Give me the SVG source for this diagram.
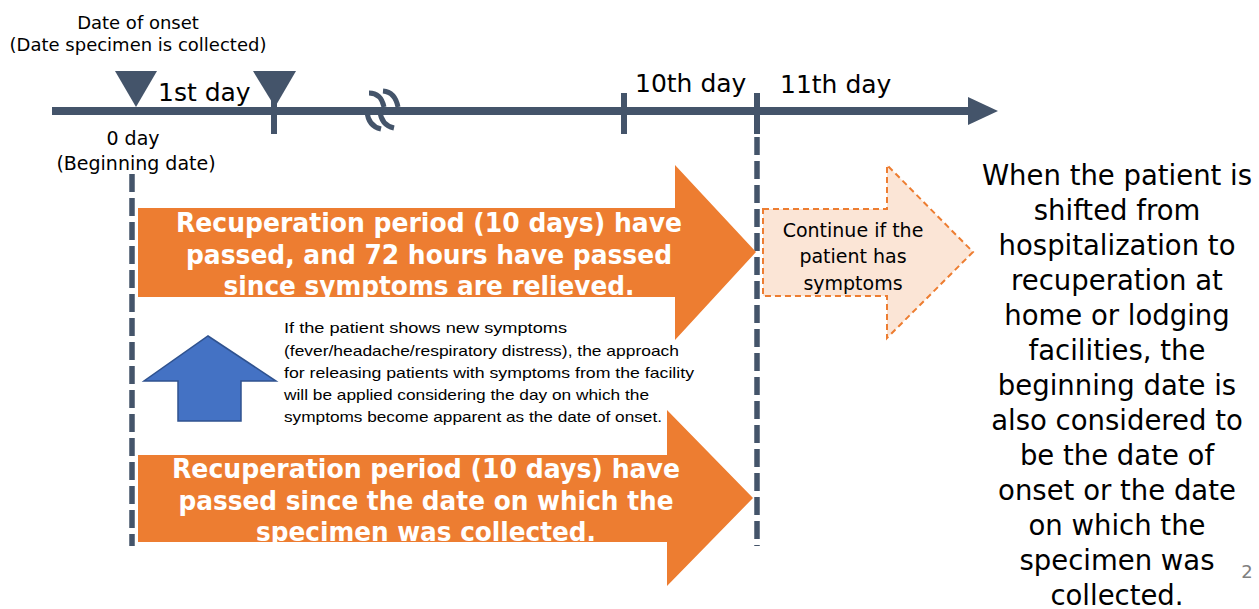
<svg xmlns="http://www.w3.org/2000/svg" width="1259" height="609" viewBox="0 0 1259 609">
<defs>
<style>
.t{font-family:"DejaVu Sans","Verdana",sans-serif;fill:#000}
.b{font-family:"DejaVu Sans","Verdana",sans-serif;font-weight:bold;fill:#fff;font-size:26px}
.s{font-family:"Liberation Sans","Arial",sans-serif;font-size:15px;fill:#000}
.axis{stroke:#44546A;stroke-width:8;fill:none}
.dash{stroke:#44546A;stroke-width:5.5;stroke-dasharray:18 6;fill:none}
.brk{stroke:#44546A;stroke-width:5;fill:none;stroke-linecap:butt}
.orange{fill:#ED7D31}
</style>
</defs>
<rect width="1259" height="609" fill="#fff"/>
<g id="connectors">
<line class="axis" x1="52" y1="111" x2="972" y2="111"/>
<polygon points="968,97 998,111 968,125" fill="#44546A"/>
<line class="axis" x1="274" y1="90" x2="274" y2="134" style="stroke-width:6"/>
<line class="axis" x1="624" y1="93" x2="624" y2="134" style="stroke-width:6"/>
<line class="axis" x1="757" y1="93" x2="757" y2="134" style="stroke-width:6"/>
<line class="dash" x1="132" y1="174" x2="132" y2="546"/>
<line class="dash" x1="757" y1="137" x2="757" y2="546"/>
<path class="brk" d="M369,93 Q381,93 384,107"/>
<path class="brk" d="M367,111 Q368,126 381,129"/>
<path class="brk" d="M383,91 Q395,92 398,107"/>
<path class="brk" d="M380,111 Q381,125 394,128"/>
</g>
<g id="marker-onset">
<polygon points="115,71 157,71 136,107" fill="#44546A"/>
</g>
<g id="marker-day1">
<polygon points="253,71 296,71 275,107" fill="#44546A"/>
</g>
<g id="labels">
<text class="t" x="138" y="29" font-size="18" text-anchor="middle">Date of onset</text>
<text class="t" x="138" y="51" font-size="18" text-anchor="middle">(Date specimen is collected)</text>
<text class="t" x="158" y="101" font-size="25">1st day</text>
<text class="t" x="133" y="145" font-size="19" text-anchor="middle">0 day</text>
<text class="t" x="136" y="170" font-size="19" text-anchor="middle">(Beginning date)</text>
<text class="t" x="635" y="92" font-size="25">10th day</text>
<text class="t" x="780" y="93" font-size="25">11th day</text>
</g>
<g id="arrow-symptoms">
<polygon class="orange" points="138,208 675,208 675,165 756,252 675,340 675,297 138,297"/>
<text class="b" x="429" y="232" text-anchor="middle" textLength="506" lengthAdjust="spacingAndGlyphs">Recuperation period (10 days) have</text>
<text class="b" x="429" y="264" text-anchor="middle" textLength="486" lengthAdjust="spacingAndGlyphs">passed, and 72 hours have passed</text>
<text class="b" x="429" y="295" text-anchor="middle" textLength="411" lengthAdjust="spacingAndGlyphs">since symptoms are relieved.</text>
</g>
<g id="arrow-up">
<polygon points="208,336 276,381 241,381 241,421 178,421 178,381 144,381" fill="#4472C4" stroke="#2F528F" stroke-width="1.5"/>
</g>
<g id="note">
<text class="s" x="284" y="333" textLength="283" lengthAdjust="spacingAndGlyphs">If the patient shows new symptoms</text>
<text class="s" x="284" y="356" textLength="395" lengthAdjust="spacingAndGlyphs">(fever/headache/respiratory distress), the approach</text>
<text class="s" x="284" y="378" textLength="410" lengthAdjust="spacingAndGlyphs">for releasing patients with symptoms from the facility</text>
<text class="s" x="284" y="400" textLength="365" lengthAdjust="spacingAndGlyphs">will be applied considering the day on which the</text>
<text class="s" x="284" y="422" textLength="378" lengthAdjust="spacingAndGlyphs">symptoms become apparent as the date of onset.</text>
</g>
<g id="arrow-specimen">
<polygon class="orange" points="138,455 667,455 667,410 753,498 667,586 667,542 138,542"/>
<text class="b" x="426" y="478" text-anchor="middle" textLength="508" lengthAdjust="spacingAndGlyphs">Recuperation period (10 days) have</text>
<text class="b" x="426" y="510" text-anchor="middle" textLength="495" lengthAdjust="spacingAndGlyphs">passed since the date on which the</text>
<text class="b" x="426" y="541" text-anchor="middle" textLength="340" lengthAdjust="spacingAndGlyphs">specimen was collected.</text>
</g>
<g id="arrow-continue">
<polygon points="763,209 887,209 887,165 973,252 887,338 887,296 763,296" fill="#FBE5D6" stroke="#ED7D31" stroke-width="2" stroke-dasharray="6 4"/>
<text class="t" x="853" y="237" font-size="19" text-anchor="middle">Continue if the</text>
<text class="t" x="853" y="263" font-size="19" text-anchor="middle">patient has</text>
<text class="t" x="853" y="290" font-size="19" text-anchor="middle">symptoms</text>
</g>
<g id="side-note" class="t" font-size="27.5" text-anchor="middle">
<text x="1117" y="185">When the patient is</text>
<text x="1117" y="220">shifted from</text>
<text x="1117" y="255">hospitalization to</text>
<text x="1117" y="290">recuperation at</text>
<text x="1117" y="325">home or lodging</text>
<text x="1117" y="360">facilities, the</text>
<text x="1117" y="395">beginning date is</text>
<text x="1117" y="430">also considered to</text>
<text x="1117" y="465">be the date of</text>
<text x="1117" y="500">onset or the date</text>
<text x="1117" y="535">on which the</text>
<text x="1117" y="570">specimen was</text>
<text x="1117" y="605">collected.</text>
</g>
<g id="page-number">
<text x="1247" y="578" font-family="DejaVu Sans, sans-serif" font-size="18" fill="#808080" text-anchor="middle">2</text>
</g>
</svg>
